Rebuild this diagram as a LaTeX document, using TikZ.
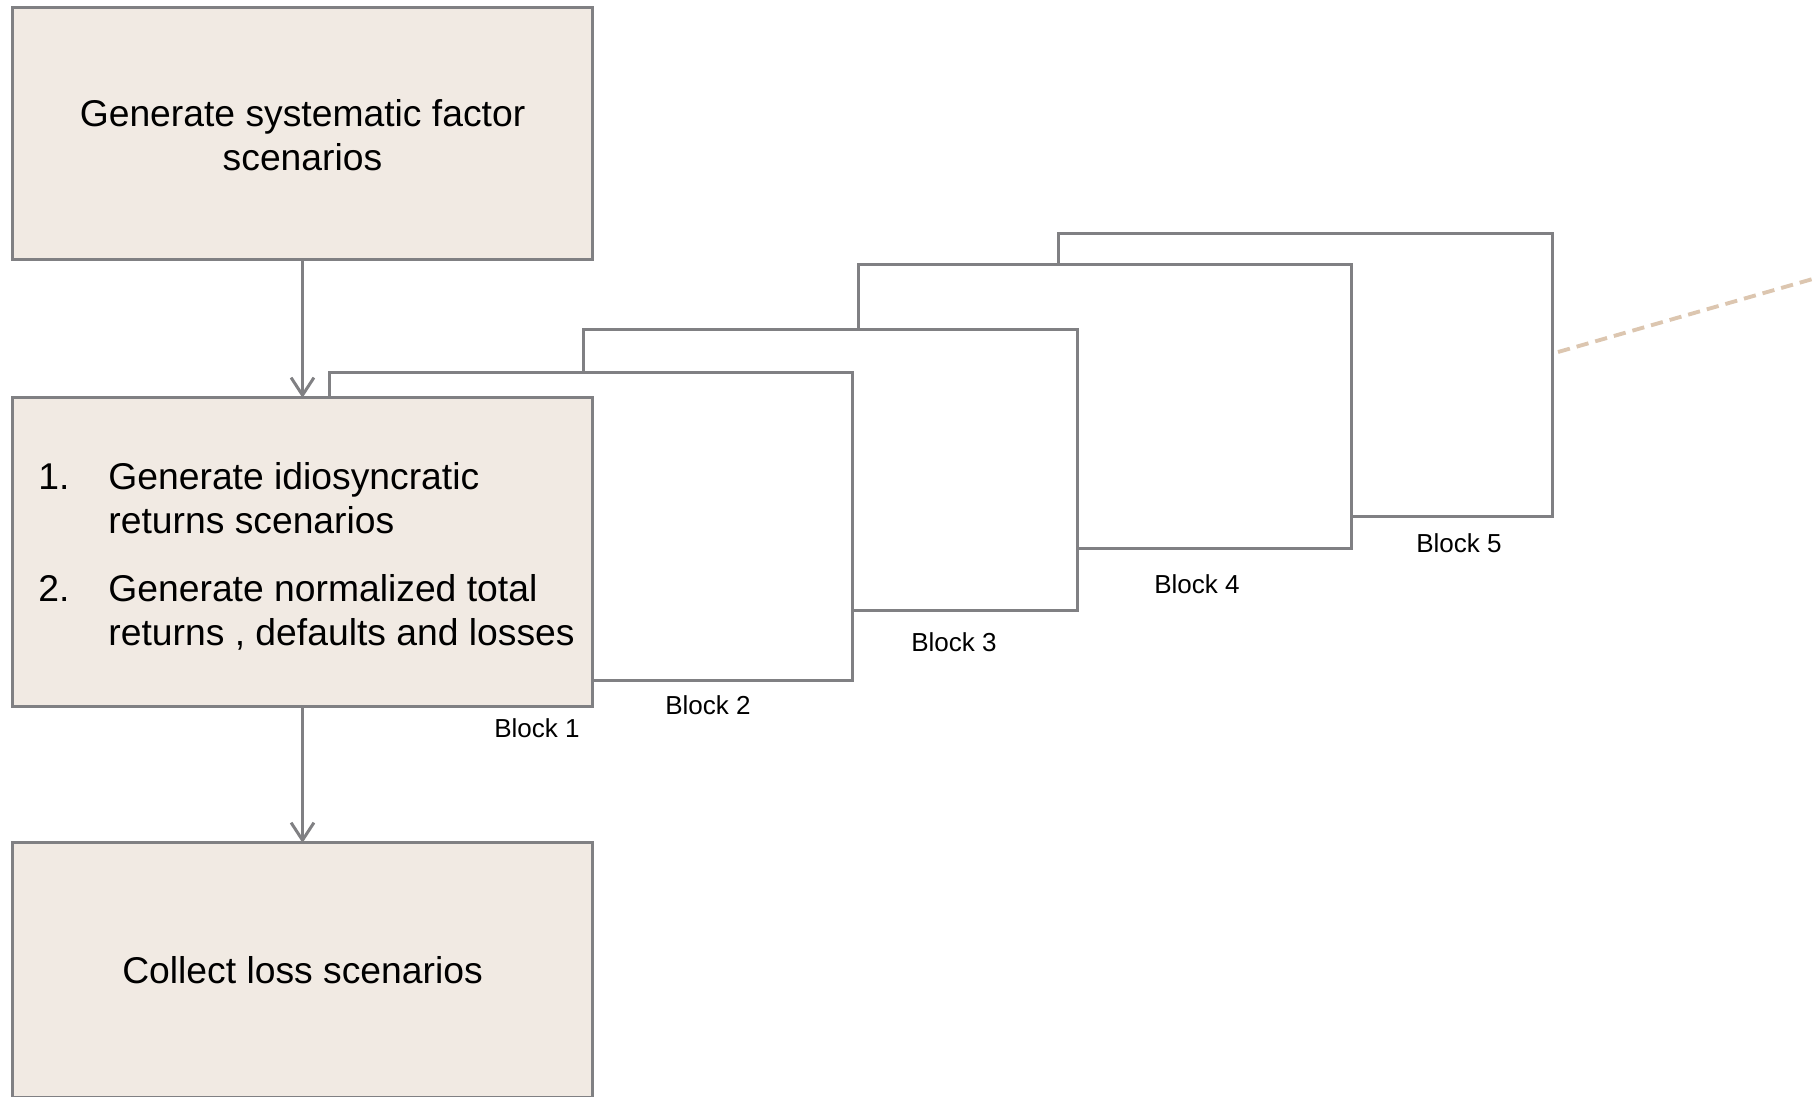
\documentclass[tikz,border=0pt]{standalone}
\usepackage{fontspec}
\setmainfont{Liberation Sans}
\usepackage{xcolor}
\usepackage{tikz}
\usetikzlibrary{positioning, fit, arrows.meta}
\definecolor{grisLinea}{HTML}{808083}
\definecolor{arenaCaja}{HTML}{F1EAE3}
\definecolor{arenaTrazo}{HTML}{DCC6B0}

\begin{document}
\begin{tikzpicture}[
  x=0.01cm, y=-0.01cm,
  font=\fontsize{10.6}{12.5}\selectfont,
  stepbox/.style={draw=grisLinea, fill=arenaCaja, line width=0.85pt,
    minimum width=5.79cm, inner sep=0pt, outer sep=0pt, align=center},
  blockbox/.style={draw=grisLinea, fill=white, line width=0.85pt,
    inner sep=0pt, outer sep=0pt},
  blocklabel/.style={font=\fontsize{7.4}{9}\selectfont, inner sep=0pt},
  arr/.style={-{Straight Barb[length=5pt, width=6.5pt]}, draw=grisLinea, line width=0.85pt},
  zoomline/.style={draw=arenaTrazo, line width=1.1pt, dash pattern=on 3.5pt off 2pt}
]
  \useasboundingbox (0,0) rectangle (1816,1096);

  % --- Bloques apilados (del fondo al frente) ---
  \node[blockbox, fit={(1058,233) (1552,516)}] (b5) {};
  \node[blockbox, fit={(858,264) (1351,548)}]  (b4) {};
  \node[blockbox, fit={(583,329) (1077,610)}]  (b3) {};
  \node[blockbox, fit={(329,372) (852,680)}]   (b2) {};

  % --- Pasos del proceso ---
  \node[stepbox, minimum height=2.51cm] (gen) at (302.5,133.5)
    {\raisebox{-0.6pt}[\height][\depth]{Generate systematic factor}\\
     \raisebox{-0.6pt}[\height][\depth]{scenarios}};
  \node[stepbox, minimum height=3.08cm] (idio) at (302.5,552)
    {\hspace*{2.3pt}\raisebox{-2pt}[\height][\depth]{%
    \begin{tabular}{@{}p{19.9pt}@{}l@{}}
      1. & Generate idiosyncratic\\
         & returns scenarios\\[6.8pt]
      2. & Generate normalized total\\
         & returns , defaults and losses
    \end{tabular}}};
  \node[stepbox, minimum height=2.54cm] (collect) at (302.5,970)
    {Collect loss scenarios};

  % --- Etiquetas de bloques ---
  \node[blocklabel] (lab1) at (537,728) {Block 1};
  \node[blocklabel] (lab2) at (708,705) {Block 2};
  \node[blocklabel] (lab3) at (954,642) {Block 3};
  \node[blocklabel] (lab4) at (1197,584) {Block 4};
  \node[blocklabel] (lab5) at (1459,543) {Block 5};

  % --- Flechas ---
  \draw[arr] (gen) -- (idio);
  \draw[arr] (idio) -- (collect);

  % Linea punteada hacia la derecha
  \coordinate (tailA) at (1558,352);
  \coordinate (tailB) at (1830,274);
  \draw[zoomline] (tailA) -- (tailB);

\end{tikzpicture}
\end{document}
